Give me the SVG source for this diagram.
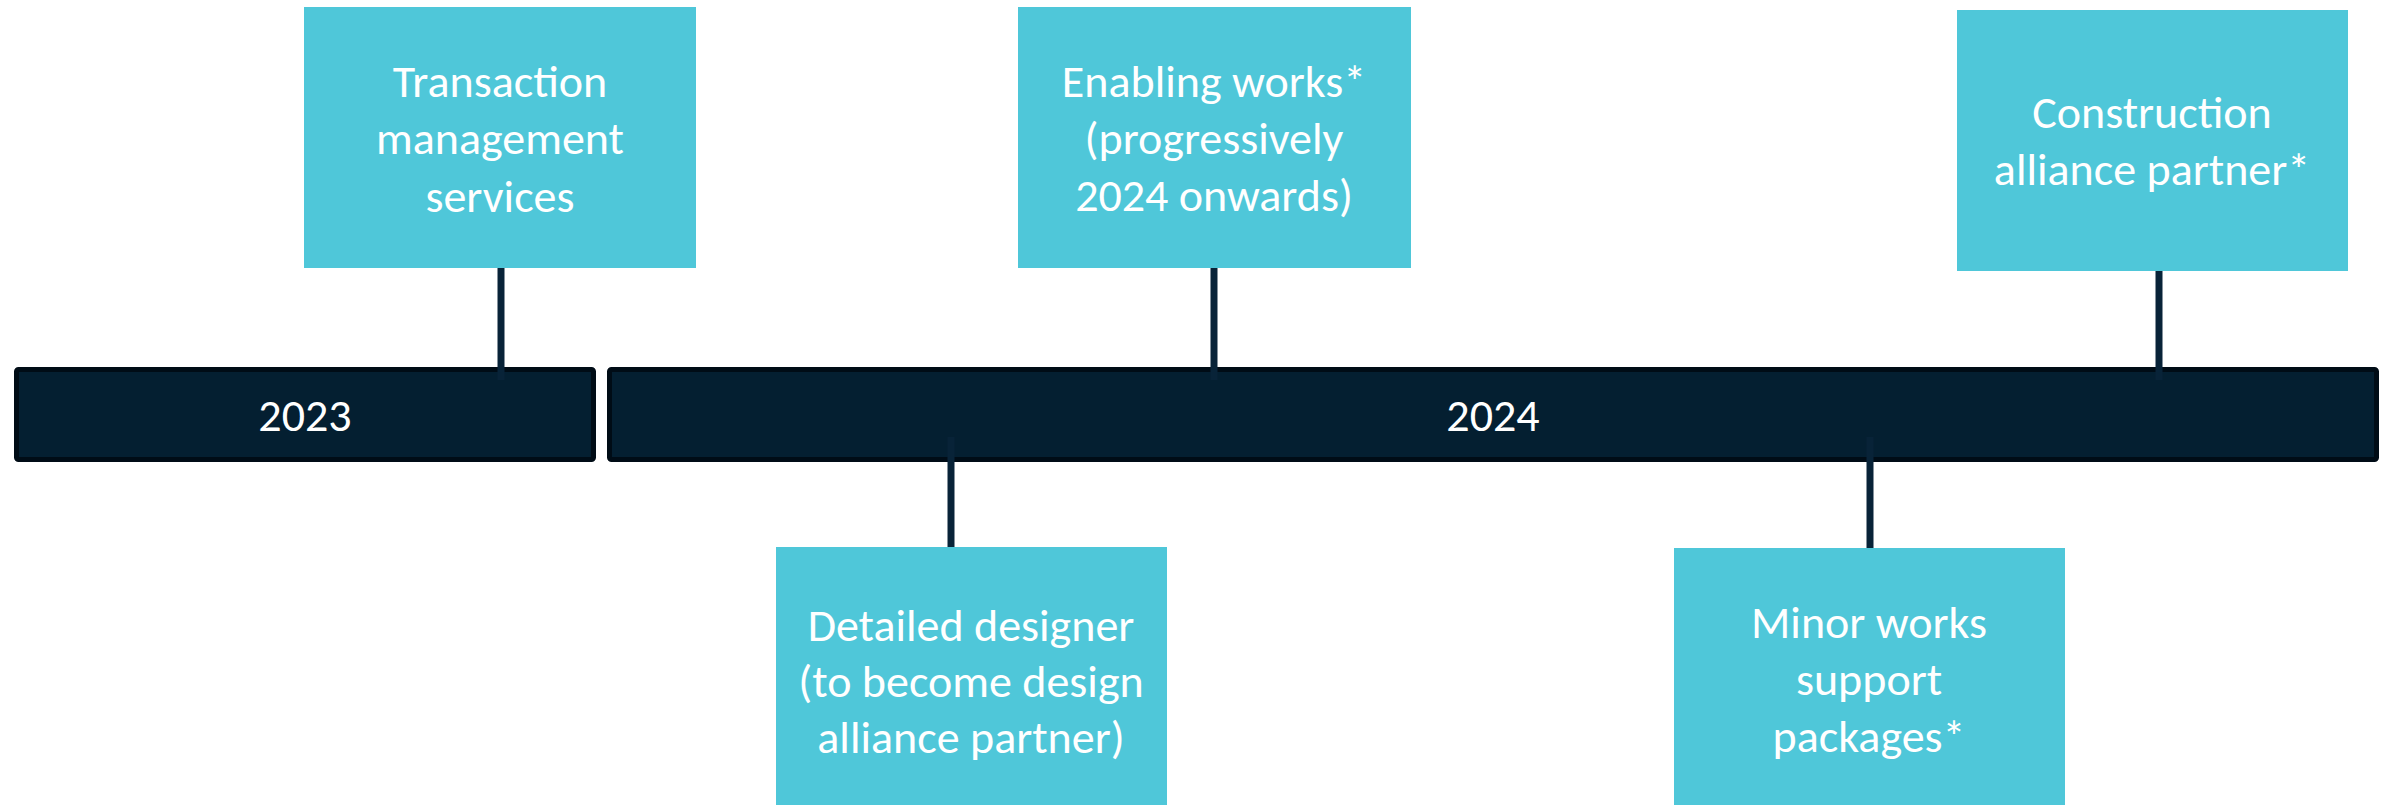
<svg xmlns="http://www.w3.org/2000/svg" width="2387" height="805" viewBox="0 0 2387 805">
<style>
.box{fill:#4fc7d9}
.bar{fill:#041f31;stroke:#000c16;stroke-width:5}
.lbl{font-family:Carlito,Lato,"Liberation Sans",sans-serif;font-size:46px;fill:#ffffff;text-anchor:middle}
.con{stroke:#082338;stroke-width:7;fill:none}
</style>
<rect width="2387" height="805" fill="#ffffff"/>
<g id="bar2023"><rect class="bar" x="16.5" y="369.5" width="577" height="90" rx="2"/><text class="lbl" x="305" y="431">2023</text></g>
<g id="bar2024"><rect class="bar" x="609.5" y="369.5" width="1767" height="90" rx="2"/><text class="lbl" x="1493" y="431">2024</text></g>
<g id="connectors">
<line class="con" x1="501" y1="266" x2="501" y2="380"/>
<line class="con" x1="1214" y1="266" x2="1214" y2="380"/>
<line class="con" x1="2159" y1="269" x2="2159" y2="380"/>
<line class="con" x1="951" y1="437" x2="951" y2="551"/>
<line class="con" x1="1870" y1="437" x2="1870" y2="553"/>
</g>
<g id="tms"><rect class="box" x="304" y="7" width="392" height="261"/>
<text class="lbl" x="500" y="97">Transaction</text><text class="lbl" x="500" y="154">management</text><text class="lbl" x="500" y="212">services</text></g>
<g id="enabling"><rect class="box" x="1018" y="7" width="393" height="261"/>
<text class="lbl" x="1214" y="97">Enabling works*</text><text class="lbl" x="1214" y="154">(progressively</text><text class="lbl" x="1214" y="211">2024 onwards)</text></g>
<g id="construction"><rect class="box" x="1957" y="10" width="391" height="261"/>
<text class="lbl" x="2152" y="128">Construction</text><text class="lbl" x="2152" y="185">alliance partner*</text></g>
<g id="detailed"><rect class="box" x="776" y="547" width="391" height="258"/>
<text class="lbl" x="971" y="641">Detailed designer</text><text class="lbl" x="971" y="697">(to become design</text><text class="lbl" x="971" y="753">alliance partner)</text></g>
<g id="minor"><rect class="box" x="1674" y="548" width="391" height="257"/>
<text class="lbl" x="1869" y="638">Minor works</text><text class="lbl" x="1869" y="695">support</text><text class="lbl" x="1869" y="752">packages*</text></g>
</svg>
